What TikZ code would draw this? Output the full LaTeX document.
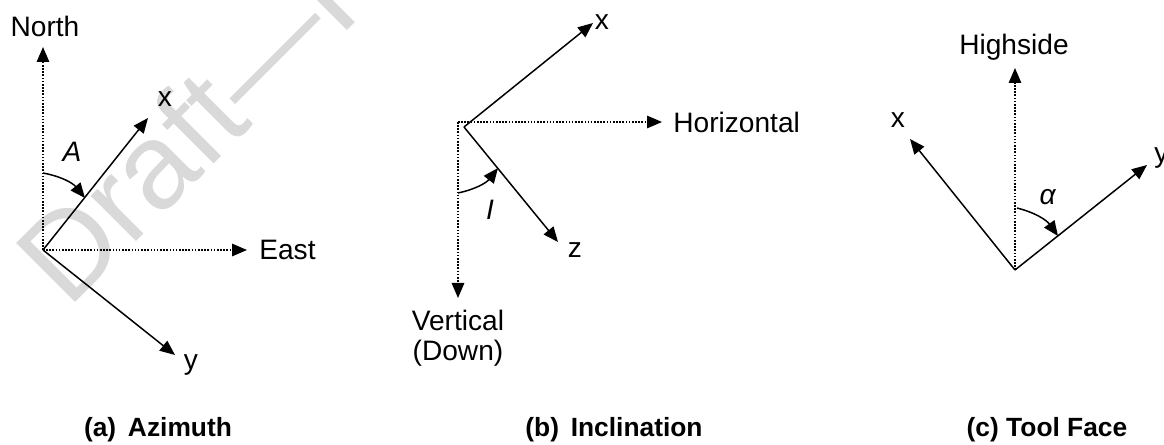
\documentclass[tikz,border=0pt]{standalone}
\usepackage{fontspec}
\setmainfont{Liberation Sans}
\usetikzlibrary{arrows.meta}

\begin{document}
\begin{tikzpicture}[
  x=0.02cm, y=-0.02cm,
  font=\fontsize{16}{17}\selectfont,
  vec/.style={line width=0.85pt, -{Triangle[length=3mm, width=2.5mm]}},
  ref/.style={vec, dash pattern=on 0.9pt off 0.9pt},
  lbl/.style={inner sep=0pt, anchor=base},
  caption/.style={lbl, font=\fontsize{15}{18}\selectfont\bfseries},
  wmark/.style={text=black!15, font=\fontsize{69}{72}\selectfont,
                rotate=45, anchor=base west, inner sep=0pt},
]
\useasboundingbox (0,0) rectangle (1164,445);
\clip (0,0) rectangle (1164,445);

%% watermark
\node[wmark] (draft) at (68,310) {Draft—I};

%% (a) azimuth
\coordinate (oA) at (43,250);
\coordinate (nA) at (43,47);
\coordinate (eA) at (247,250);
\coordinate (xA) at (148,118);
\coordinate (yA) at (175,355);
\coordinate (aA1) at (43,173);
\coordinate (aA2) at (85,198);
\node[lbl] (north) at (45,37) {North};
\node[lbl, anchor=base west] (east) at (259,260) {East};
\node[lbl] (xAl) at (165,107) {x};
\node[lbl] (yAl) at (191,370) {y};
\node[lbl] (azi) at (72,162) {\textit{A}};
\node[caption] (capA) at (158,437) {(a)\ \,Azimuth};

%% (b) inclination
\coordinate (oB) at (464,127);
\coordinate (cB) at (458,122);
\coordinate (hB) at (662,122);
\coordinate (vB) at (458,298);
\coordinate (xB) at (593,23);
\coordinate (zB) at (558,242);
\coordinate (aB1) at (458,193);
\coordinate (aB2) at (498,168);
\node[lbl] (xBl) at (602,30) {x};
\node[lbl, anchor=base west] (horiz) at (673,133) {Horizontal};
\node[lbl] (zBl) at (575,258) {z};
\node[lbl] (incl) at (490,220) {\textit{I}};
\node[lbl, anchor=north, align=center] (vert) at (458,310) {Vertical\\(Down)};
\node[caption] (capB) at (614,437) {(b)\ \,Inclination};

%% (c) tool face
\coordinate (oC) at (1015,270);
\coordinate (hC) at (1015,68);
\coordinate (xC) at (910,139);
\coordinate (yC) at (1147,165);
\coordinate (aC1) at (1017,208);
\coordinate (aC2) at (1058,236);
\node[lbl] (high) at (1014,55) {Highside};
\node[lbl] (xCl) at (898,128) {x};
\node[lbl, anchor=base west] (yCl) at (1154,163) {y};
\node[lbl] (alf) at (1048,205) {\textit{α}};
\node[caption] (capC) at (1047,437) {(c) Tool Face};

\draw[ref] (oA) -- (nA);
\draw[ref] (oA) -- (eA);
\draw[vec] (oA) -- (xA);
\draw[vec] (oA) -- (yA);
\draw[vec] (aA1) to[bend left=20] (aA2);

\draw[ref] (cB) -- (hB);
\draw[ref] (cB) -- (vB);
\draw[vec] (oB) -- (xB);
\draw[vec] (oB) -- (zB);
\draw[vec] (aB1) to[bend right=20] (aB2);

\draw[ref] (oC) -- (hC);
\draw[vec] (oC) -- (xC);
\draw[vec] (oC) -- (yC);
\draw[vec] (aC1) to[bend left=20] (aC2);
\end{tikzpicture}
\end{document}
